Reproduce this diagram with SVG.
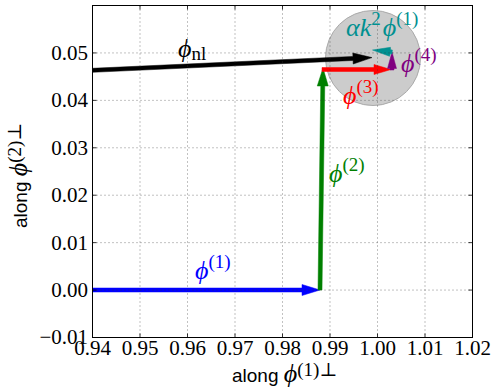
<svg xmlns="http://www.w3.org/2000/svg" width="498" height="390" viewBox="0 0 498 390">
<style>
.tick{font-family:"Liberation Serif","DejaVu Serif",serif;font-size:21px;fill:#000}
.grid{stroke:#333;stroke-width:0.6;stroke-dasharray:1 3;fill:none}
.tk{stroke:#000;stroke-width:0.8}
.m{font-family:"Liberation Serif","DejaVu Serif",serif;font-style:italic;font-size:26px}
.sup{font-family:"Liberation Serif","DejaVu Serif",serif;font-style:normal;font-size:19px}
.lab{font-family:"Liberation Sans","DejaVu Sans",sans-serif;font-size:19px;fill:#000}
</style>
<rect width="498" height="390" fill="#fff"/>
<g id="circle"><circle cx="373" cy="58" r="47.5" fill="#cccccc" stroke="#aaaaaa" stroke-width="1"/></g>
<g id="connectors">
<polygon id="phi1" fill="#0000ff" stroke="#0000ff" stroke-width="0.5" points="92.5,288 302,288 302,284.5 320,290 302,295.5 302,292 92.5,292"/>
<polygon id="phi2" fill="#008000" stroke="#008000" stroke-width="0.5" points="318,290 320.76,86 317.26,86 323,68 328.26,86 324.76,86 322,290"/>
<polygon id="phinl" fill="#000" stroke="#000" stroke-width="0.5" points="92.41,68.3 352.93,56.46 352.84,53 372,57.6 353.2,64 353.11,60.46 92.59,72.3"/>
<polygon id="phi3" fill="#ff0000" stroke="#ff0000" stroke-width="0.5" points="322,67.5 374,67.5 374,64.5 391,69.5 374,74.5 374,71.5 322,71.5"/>
<polygon id="phi4" fill="#800080" stroke="#800080" stroke-width="0.5" points="390,70 390,68.5 387.5,68.5 392,52 396.5,68.5 394,68.5 394,70"/>
<polygon id="ak2phi1" fill="#009090" stroke="#009090" stroke-width="0.5" points="392,54 390.2,53.8 389.54,56.28 372.5,50 390.46,47.32 390.6,49.8 392.4,50"/>
</g>
<g id="grid">
<line class="grid" x1="140" y1="5.5" x2="140" y2="337.5"/>
<line class="grid" x1="187.5" y1="5.5" x2="187.5" y2="337.5"/>
<line class="grid" x1="235" y1="5.5" x2="235" y2="337.5"/>
<line class="grid" x1="282.5" y1="5.5" x2="282.5" y2="337.5"/>
<line class="grid" x1="330" y1="5.5" x2="330" y2="337.5"/>
<line class="grid" x1="377.5" y1="5.5" x2="377.5" y2="337.5"/>
<line class="grid" x1="425" y1="5.5" x2="425" y2="337.5"/>
<line class="grid" x1="92.5" y1="290.07" x2="472.5" y2="290.07"/>
<line class="grid" x1="92.5" y1="242.64" x2="472.5" y2="242.64"/>
<line class="grid" x1="92.5" y1="195.21" x2="472.5" y2="195.21"/>
<line class="grid" x1="92.5" y1="147.79" x2="472.5" y2="147.79"/>
<line class="grid" x1="92.5" y1="100.36" x2="472.5" y2="100.36"/>
<line class="grid" x1="92.5" y1="52.93" x2="472.5" y2="52.93"/>
</g>
<g id="ticks">
<path class="tk" d="M140,337.5v-4M187.5,337.5v-4M235,337.5v-4M282.5,337.5v-4M330,337.5v-4M377.5,337.5v-4M425,337.5v-4M140,5.5v4M187.5,5.5v4M235,5.5v4M282.5,5.5v4M330,5.5v4M377.5,5.5v4M425,5.5v4M92.5,290.07h4M92.5,242.64h4M92.5,195.21h4M92.5,147.79h4M92.5,100.36h4M92.5,52.93h4M472.5,290.07h-4M472.5,242.64h-4M472.5,195.21h-4M472.5,147.79h-4M472.5,100.36h-4M472.5,52.93h-4"/>
</g>
<g id="frame"><rect x="92.5" y="5.5" width="380" height="332" fill="none" stroke="#000" stroke-width="1"/></g>
<g id="xticklabels" class="tick" text-anchor="middle">
<text x="92.5" y="355">0.94</text>
<text x="140" y="355">0.95</text>
<text x="187.5" y="355">0.96</text>
<text x="235" y="355">0.97</text>
<text x="282.5" y="355">0.98</text>
<text x="330" y="355">0.99</text>
<text x="377.5" y="355">1.00</text>
<text x="425" y="355">1.01</text>
<text x="472.5" y="355">1.02</text>
</g>
<g id="yticklabels" class="tick" text-anchor="end">
<text x="88" y="344">−0.01</text>
<text x="88" y="297">0.00</text>
<text x="88" y="249.6">0.01</text>
<text x="88" y="202.2">0.02</text>
<text x="88" y="154.8">0.03</text>
<text x="88" y="107.4">0.04</text>
<text x="88" y="60">0.05</text>
</g>
<g id="xlabel"><text class="lab" x="232" y="381.5">along <tspan class="m" font-size="22">ϕ</tspan><tspan class="sup" font-size="15" dy="-6">(1)⊥</tspan></text></g>
<g id="ylabel"><text class="lab" transform="translate(27,228) rotate(-90)">along <tspan class="m" font-size="22">ϕ</tspan><tspan class="sup" font-size="15" dy="-6">(2)⊥</tspan></text></g>
<g id="labels">
<text class="m" x="178" y="57" fill="#000">ϕ<tspan class="sup" font-size="18" dy="3">nl</tspan></text>
<text class="m" x="195" y="278.5" fill="#0000ff">ϕ<tspan class="sup" dy="-11">(1)</tspan></text>
<text class="m" x="329" y="182" fill="#008000">ϕ<tspan class="sup" dy="-11">(2)</tspan></text>
<text class="m" x="343" y="103.5" fill="#ff0000">ϕ<tspan class="sup" dy="-11">(3)</tspan></text>
<text class="m" x="401" y="72" fill="#800080">ϕ<tspan class="sup" dy="-11">(4)</tspan></text>
<text class="m" x="346" y="36" fill="#009090">αk<tspan class="sup" dy="-11">2</tspan><tspan dx="2" dy="11">ϕ</tspan><tspan class="sup" dy="-11">(1)</tspan></text>
</g>
</svg>
